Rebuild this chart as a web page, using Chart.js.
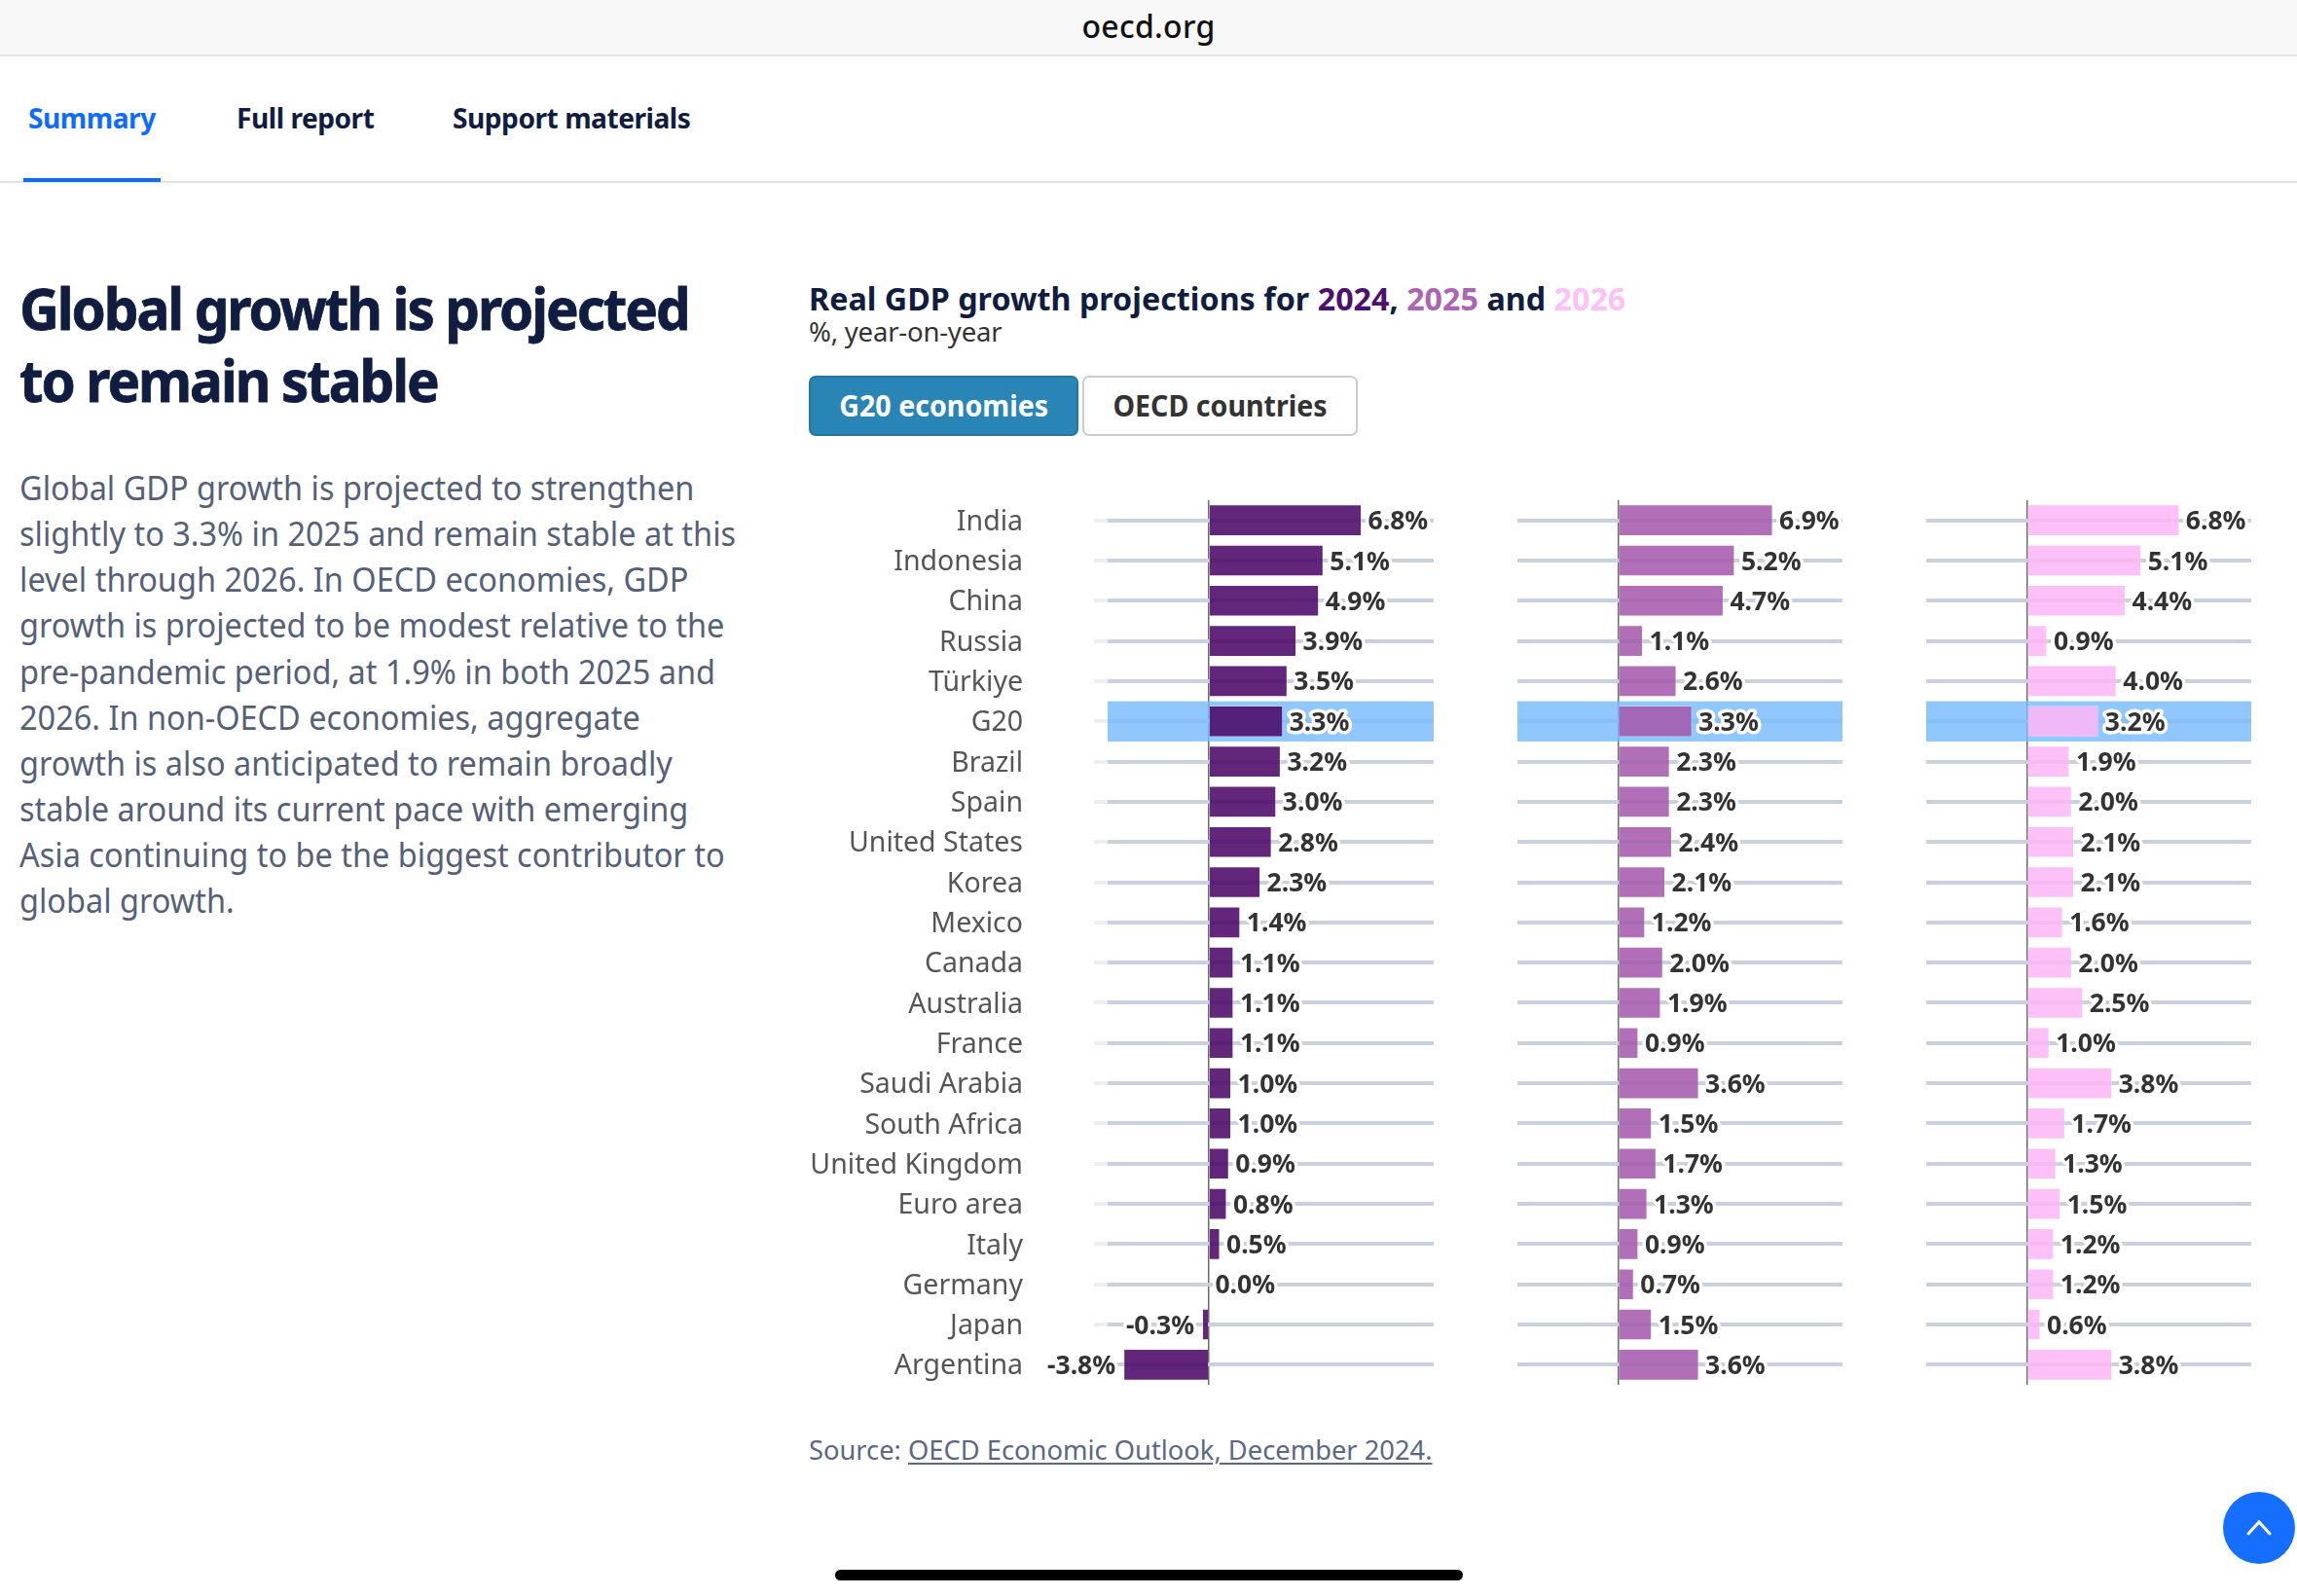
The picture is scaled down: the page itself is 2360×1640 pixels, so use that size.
<!DOCTYPE html>
<html>
<head>
<meta charset="utf-8">
<script src="https://cdn.jsdelivr.net/npm/chart.js@4"></script>
<style>
    html, body { margin: 0; padding: 0; background: #fff; }
    body { width: 2360px; height: 1640px; position: relative; overflow: hidden; font-family: "Noto Sans", sans-serif; }
    .abs { position: absolute; white-space: nowrap; }
    canvas { position: absolute; top: 504px; }
    #topbar { left: 0; top: 0; width: 2360px; height: 56px; background: #f8f8f8; border-bottom: 2px solid #e4e4e8; text-align: center; line-height: 54px; font-size: 32px; font-weight: 500; color: #111; letter-spacing: 0.3px; }
    .tab { top: 99px; font-size: 29px; font-weight: 700; line-height: 44px; color: #101d40; letter-spacing: -0.5px; transform: scaleX(0.97); transform-origin: left; }
    #tabline { left: 0; top: 186px; width: 2360px; height: 2px; background: #e2e3ea; }
    #tabactive { left: 24px; top: 183px; width: 141px; height: 4px; background: #0f6bff; }
    #heading { left: 20px; top: 279px; font-size: 60px; font-weight: 700; line-height: 74px; color: #101d40; letter-spacing: -2.2px; -webkit-text-stroke: 0.8px #101d40; transform: scaleX(0.942); transform-origin: left; }
    #body { left: 20px; top: 478px; font-size: 34px; line-height: 47.15px; color: #565f78; transform: scaleX(0.955); transform-origin: left; }
    #title { left: 831px; top: 285px; font-size: 33px; font-weight: 700; line-height: 44px; color: #101d40; transform: scaleX(0.978); transform-origin: left; }
    #sub { left: 831px; top: 322px; font-size: 27.5px; line-height: 38px; color: #333; letter-spacing: -0.2px; }
    .btn { top: 386px; height: 62px; box-sizing: border-box; border-radius: 7px; font-size: 30px; font-weight: 700; line-height: 58px; text-align: center; }
    .btn span { display: inline-block; transform: scaleX(0.953); }
    #btn1 { left: 831px; width: 277px; background: #2985b5; border: 2px solid #24779f; color: #fff; }
    #btn2 { left: 1112px; width: 283px; background: #fff; border: 2px solid #ccc; color: #333; }
    #source { left: 831px; top: 1470px; font-size: 27.3px; line-height: 40px; color: #5a6785; }
    #source u { text-underline-offset: 3px; }
    #indicator { left: 858px; top: 1613px; width: 645px; height: 11px; background: #000; border-radius: 6px; }
    #scrollup { left: 2284px; top: 1533px; width: 74px; height: 74px; background: #166eff; border-radius: 50%; }
</style>
</head>
<body>
<div class="abs" id="topbar">oecd.org</div>
<div class="abs tab" style="left:29px;color:#0f6bff">Summary</div>
<div class="abs tab" style="left:243px">Full report</div>
<div class="abs tab" style="left:465px">Support materials</div>
<div class="abs" id="tabline"></div>
<div class="abs" id="tabactive"></div>

<div class="abs" id="heading">Global growth is projected<br>to remain stable</div>
<div class="abs" id="body">Global GDP growth is projected to strengthen<br>slightly to 3.3% in 2025 and remain stable at this<br>level through 2026. In OECD economies, GDP<br>growth is projected to be modest relative to the<br>pre-pandemic period, at 1.9% in both 2025 and<br>2026. In non-OECD economies, aggregate<br>growth is also anticipated to remain broadly<br>stable around its current pace with emerging<br>Asia continuing to be the biggest contributor to<br>global growth.</div>

<div class="abs" id="title">Real GDP growth projections for <span style="color:#4d0f70">2024</span>, <span style="color:#ac65b4">2025</span> and <span style="color:#fdc0f7">2026</span></div>
<div class="abs" id="sub">%, year-on-year</div>
<div class="abs btn" id="btn1"><span>G20 economies</span></div>
<div class="abs btn" id="btn2"><span>OECD countries</span></div>

<canvas id="chart2024" width="653" height="929" style="left:820px"></canvas>
<canvas id="chart2025" width="334" height="929" style="left:1559px"></canvas>
<canvas id="chart2026" width="334" height="929" style="left:1979px"></canvas>

<div class="abs" id="source">Source: <u>OECD Economic Outlook, December 2024.</u></div>
<div class="abs" id="indicator"></div>
<div class="abs" id="scrollup">
    <svg width="74" height="74"><path d="M26 43 L37 31 L48 43" fill="none" stroke="#fff" stroke-width="3" stroke-linecap="round"/></svg>
</div>

<script>
const countries = ["India", "Indonesia", "China", "Russia", "Türkiye", "G20", "Brazil", "Spain", "United States", "Korea", "Mexico", "Canada", "Australia", "France", "Saudi Arabia", "South Africa", "United Kingdom", "Euro area", "Italy", "Germany", "Japan", "Argentina"];
const growth2024 = [6.8, 5.1, 4.9, 3.9, 3.5, 3.3, 3.2, 3.0, 2.8, 2.3, 1.4, 1.1, 1.1, 1.1, 1.0, 1.0, 0.9, 0.8, 0.5, 0.0, -0.3, -3.8];
const growth2025 = [6.9, 5.2, 4.7, 1.1, 2.6, 3.3, 2.3, 2.3, 2.4, 2.1, 1.2, 2.0, 1.9, 0.9, 3.6, 1.5, 1.7, 1.3, 0.9, 0.7, 1.5, 3.6];
const growth2026 = [6.8, 5.1, 4.4, 0.9, 4.0, 3.2, 1.9, 2.0, 2.1, 2.1, 1.6, 2.0, 2.5, 1.0, 3.8, 1.7, 1.3, 1.5, 1.2, 1.2, 0.6, 3.8];
const highlighted = "G20";

// blue band behind the G20 row
const bandPlugin = {
    id: "band",
    beforeDatasetsDraw(chart) {
        const { ctx, chartArea, scales } = chart;
        const y = scales.y.getPixelForValue(countries.indexOf(highlighted));
        const h = chartArea.height / countries.length;
        ctx.save();
        ctx.fillStyle = "rgba(120, 187, 255, 0.82)";
        ctx.fillRect(chartArea.left, y - h / 2, chartArea.width, h);
        ctx.restore();
    }
};

// nudge the country names down a little, they sit low in the original
const tickNudgePlugin = {
    id: "tickNudge",
    beforeDraw(chart) {
        chart.scales.y.getLabelItems().forEach((item) => {
            item.options.translation[1] += 2;
        });
    }
};

// value labels with a white halo, next to the bar end
const valueLabelPlugin = {
    id: "valueLabels",
    afterDatasetsDraw(chart) {
        const { ctx } = chart;
        const values = chart.data.datasets[0].data;
        ctx.save();
        ctx.font = "bold 26.5px 'Noto Sans'";
        ctx.textBaseline = "middle";
        ctx.lineJoin = "round";
        chart.getDatasetMeta(0).data.forEach((bar, i) => {
            const text = values[i].toFixed(1) + "%";
            const negative = values[i] < 0;
            const x = negative ? bar.x - 8 : bar.x + 6.5;
            ctx.textAlign = negative ? "right" : "left";
            ctx.strokeStyle = "#fff";
            ctx.lineWidth = 7;
            ctx.strokeText(text, x, bar.y + 2);
            ctx.fillStyle = "#333";
            ctx.fillText(text, x, bar.y + 2);
        });
        ctx.restore();
    }
};

function makeChart(id, values, color, showLabels) {
    return new Chart(document.getElementById(id), {
        type: "bar",
        data: {
            labels: countries,
            datasets: [{
                data: values,
                backgroundColor: color,
                borderColor: "rgba(255, 255, 255, 0.3)",
                borderWidth: 1,
                categoryPercentage: 1,
                barPercentage: 0.79
            }]
        },
        options: {
            indexAxis: "y",
            responsive: false,
            animation: false,
            layout: { padding: { top: 10, bottom: 10 } },
            plugins: { legend: { display: false }, tooltip: { enabled: false } },
            scales: {
                x: {
                    min: -4.5,
                    max: 10,
                    afterBuildTicks: (axis) => { axis.ticks = [{ value: 0 }]; },
                    ticks: { display: false },
                    border: { display: false },
                    grid: { color: "#6b6b6b", lineWidth: 1.5, drawTicks: false }
                },
                y: {
                    // the big tick padding would otherwise be added above and below the axis
                    afterFit: (axis) => {
                        axis.width = showLabels ? 318 : 0;
                        axis.paddingTop = 0;
                        axis.paddingBottom = 0;
                    },
                    ticks: {
                        display: showLabels,
                        autoSkip: false,
                        padding: 73,
                        color: "#555",
                        font: { family: "Noto Sans", size: 28.5 }
                    },
                    border: { display: false },
                    grid: {
                        offset: false,
                        color: "#c8d1dd",
                        lineWidth: 4,
                        drawTicks: showLabels,
                        tickColor: "#eeeeee",
                        tickLength: 14
                    }
                }
            }
        },
        plugins: [bandPlugin, tickNudgePlugin, valueLabelPlugin]
    });
}

makeChart("chart2024", growth2024, "rgba(75, 7, 102, 0.87)", true);
makeChart("chart2025", growth2025, "rgba(164, 90, 172, 0.87)", false);
makeChart("chart2026", growth2026, "rgba(253, 183, 246, 0.87)", false);
</script>
</body>
</html>
